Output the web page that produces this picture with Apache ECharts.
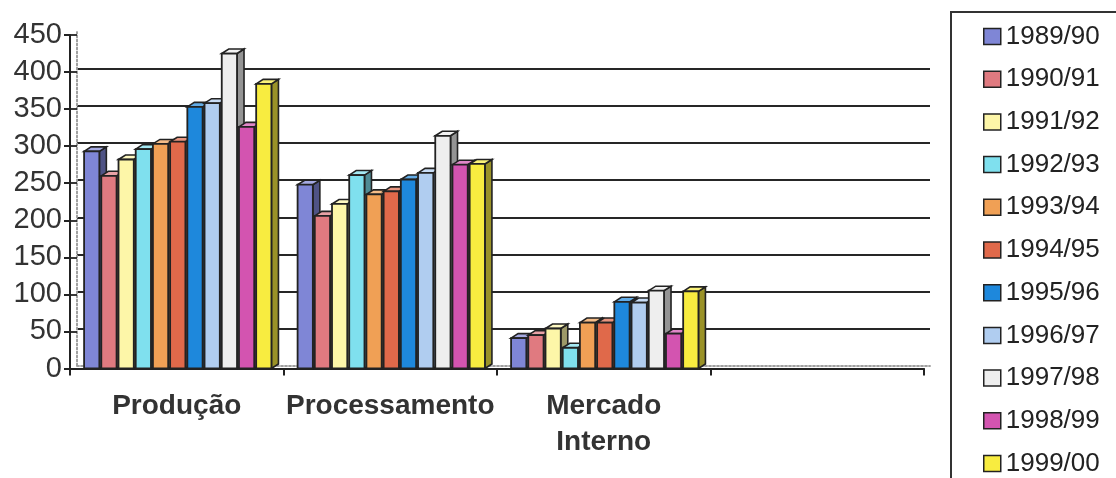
<!DOCTYPE html>
<html>
<head>
<meta charset="utf-8">
<script src="https://cdn.jsdelivr.net/npm/echarts@6/dist/echarts.min.js"></script>
<style>
  html, body { margin: 0; padding: 0; background: #ffffff; }
  #chart { width: 1116px; height: 478px; }
</style>
</head>
<body>
<div id="chart"></div>
<script>
// Categories on the horizontal axis (the last slot is left empty)
const categories = ['Produção', 'Processamento', 'Mercado\nInterno', ''];

// Crop seasons, one series each
const seasons = ['1989/90', '1990/91', '1991/92', '1992/93', '1993/94', '1994/95',
                 '1995/96', '1996/97', '1997/98', '1998/99', '1999/00'];

// Values per season, for each category
const producao       = [293, 260, 282, 296, 303, 306, 353, 358, 425, 326, 384];
const processamento  = [248, 206, 222, 261, 235, 239, 255, 264, 314, 275, 276];
const mercadoInterno = [41, 45, 54, 28, 62, 62, 90, 89, 105, 47, 104];

// Value-axis ticks
const yMin = 0, yMax = 450, yStep = 50;

const seasonColors = ['#7f86d6', '#e07a80', '#fdf6a8', '#7fe0ee', '#f0a055', '#e0694a',
                      '#1e88dc', '#b0cdf0', '#eeeeee', '#d354b0', '#f8ec40'];

const FONT = '"Liberation Sans", Arial, sans-serif';
const INK = '#222';

// Depth of the box extrusion (x to the right, y upward)
const DX = 7, DY = 4.5;

function shade(hex, f) {
  const n = parseInt(hex.slice(1), 16);
  let r = (n >> 16) & 255, g = (n >> 8) & 255, b = n & 255;
  if (f < 1) { r *= f; g *= f; b *= f; }
  else { const t = f - 1; r += (255 - r) * t; g += (255 - g) * t; b += (255 - b) * t; }
  return 'rgb(' + Math.round(r) + ',' + Math.round(g) + ',' + Math.round(b) + ')';
}

// Draws one season's column inside each category band as an extruded box
function boxRenderer(idx, color) {
  return function (params, api) {
    const v = api.value(1);
    if (v == null || isNaN(v)) return;
    const c = api.value(0);
    const base = api.coord([c, 0]);
    const top = api.coord([c, v]);
    const band = api.size([1, 0])[0];
    const w = band * 0.0715;
    const x0 = base[0] - band / 2 + band * 0.066 + idx * band * 0.0806;
    const y0 = top[1], y1 = base[1];
    return {
      type: 'group',
      children: [
        {
          type: 'polygon',
          shape: { points: [[x0 + w, y0], [x0 + w + DX, y0 - DY], [x0 + w + DX, y1 - DY], [x0 + w, y1]] },
          style: { fill: shade(color, 0.62), stroke: INK, lineWidth: 1.6 }
        },
        {
          type: 'polygon',
          shape: { points: [[x0, y0], [x0 + DX, y0 - DY], [x0 + w + DX, y0 - DY], [x0 + w, y0]] },
          style: { fill: shade(color, 1.3), stroke: INK, lineWidth: 1.6 }
        },
        {
          type: 'rect',
          shape: { x: x0, y: y0, width: w, height: y1 - y0 },
          style: { fill: color, stroke: INK, lineWidth: 1.8 }
        }
      ]
    };
  };
}

const valuesByCategory = [producao, processamento, mercadoInterno];

const series = seasons.map(function (name, i) {
  return {
    name: name,
    type: 'custom',
    xAxisIndex: 0,
    yAxisIndex: 0,
    itemStyle: { color: seasonColors[i] },
    renderItem: boxRenderer(i, seasonColors[i]),
    encode: { x: 0, y: 1 },
    data: valuesByCategory.map(function (vals, k) { return [k, vals[i]]; }),
    z: 3 + i
  };
});

// Back wall: gridlines only between the floor and the top edge
const nLines = (yMax - yMin) / yStep + 1;
const wallLineColors = [];
for (let k = 0; k < nLines; k++) {
  wallLineColors.push(k === 0 || k === nLines - 1 ? 'rgba(0,0,0,0)' : '#262626');
}
const dotted = { color: '#9a9a9a', width: 1.5, type: [2, 2] };

const option = {
  animation: false,
  backgroundColor: '#ffffff',
  textStyle: { fontFamily: FONT },
  grid: [
    { left: 70, right: 192, top: 35, bottom: 109.5 },
    { left: 77, right: 186, top: 32, bottom: 112.5 }
  ],
  xAxis: [
    {
      gridIndex: 0,
      type: 'category',
      data: categories,
      boundaryGap: true,
      axisLine: { show: true, lineStyle: { color: INK, width: 2 } },
      axisTick: { show: true, interval: 0, length: 7, lineStyle: { color: INK, width: 2 } },
      axisLabel: {
        interval: 0, fontSize: 28, fontWeight: 'bold', color: '#333',
        lineHeight: 36, margin: 20, fontFamily: FONT
      },
      splitLine: { show: false }
    },
    {
      gridIndex: 1, type: 'value', min: 0, max: 1, position: 'bottom',
      axisLine: { show: true, lineStyle: dotted },
      axisTick: { show: false }, axisLabel: { show: false }, splitLine: { show: false }
    },
    {
      gridIndex: 1, type: 'value', min: 0, max: 1, position: 'top',
      axisLine: { show: true, lineStyle: dotted },
      axisTick: { show: false }, axisLabel: { show: false }, splitLine: { show: false }
    }
  ],
  yAxis: [
    {
      gridIndex: 0, type: 'value', min: yMin, max: yMax, interval: yStep, position: 'left',
      axisLine: { show: true, lineStyle: { color: INK, width: 2 } },
      axisTick: { show: true, length: 6, lineStyle: { color: INK, width: 2 } },
      axisLabel: { fontSize: 29, color: '#333', margin: 8, fontFamily: FONT },
      splitLine: { show: false }
    },
    {
      gridIndex: 0, type: 'value', min: yMin, max: yMax, interval: yStep, position: 'left',
      axisLine: { show: false },
      axisTick: { show: true, inside: true, length: 7, lineStyle: { color: INK, width: 1.8 } },
      axisLabel: { show: false },
      splitLine: { show: false }
    },
    {
      gridIndex: 1, type: 'value', min: yMin, max: yMax, interval: yStep, position: 'left',
      axisLine: { show: true, lineStyle: dotted },
      axisTick: { show: false }, axisLabel: { show: false },
      splitLine: { show: true, lineStyle: { color: wallLineColors, width: 2 } }
    },
    {
      gridIndex: 1, type: 'value', min: yMin, max: yMax, interval: yStep, position: 'right',
      axisLine: { show: true, lineStyle: dotted },
      axisTick: { show: false }, axisLabel: { show: false }, splitLine: { show: false }
    }
  ],
  legend: {
    orient: 'vertical',
    left: 983,
    top: 23.5,
    padding: 0,
    itemWidth: 17,
    itemHeight: 16,
    itemGap: 16.7,
    icon: 'rect',
    itemStyle: { borderColor: INK, borderWidth: 1.5 },
    textStyle: { fontSize: 26, color: '#222', lineHeight: 26, fontFamily: FONT },
    data: seasons
  },
  graphic: [
    {
      type: 'rect',
      shape: { x: 951, y: 12, width: 220, height: 520 },
      style: { fill: 'none', stroke: '#333', lineWidth: 2 },
      silent: true
    }
  ],
  series: series
};

const chart = echarts.init(document.getElementById('chart'), null, { renderer: 'canvas' });
chart.setOption(option);
</script>
</body>
</html>
